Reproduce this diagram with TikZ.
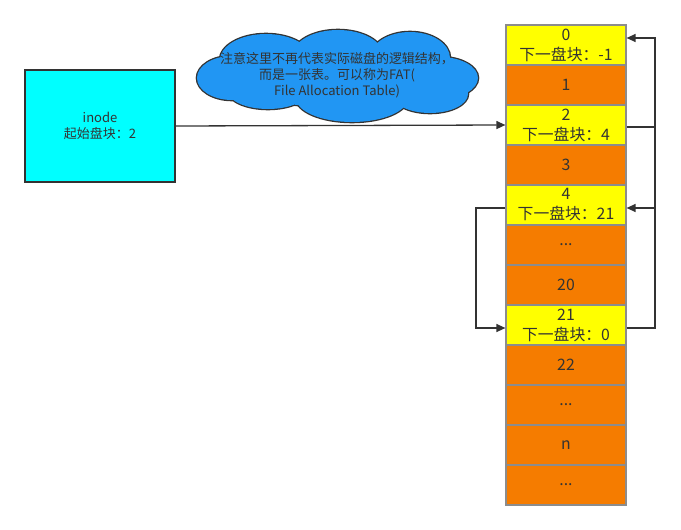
\documentclass[tikz,border=0pt]{standalone}
\usepackage{fontspec}
\setmainfont{Noto Sans CJK SC}
\usetikzlibrary{arrows.meta}
\definecolor{txt}{HTML}{333333}
\definecolor{ln}{HTML}{333333}
\definecolor{cellb}{HTML}{8C8C8C}
\definecolor{ylw}{HTML}{FFFF00}
\definecolor{org}{HTML}{F57C00}
\definecolor{cyn}{HTML}{00FFFF}
\definecolor{cld}{HTML}{2196F3}
\begin{document}
\begin{tikzpicture}[x=1pt,y=-1pt,
  font=\fontsize{15.8}{20}\selectfont, text=txt,
  cell/.style={rectangle, draw=cellb, line width=1.2pt, minimum width=120pt, minimum height=40pt, inner sep=0pt, align=center},
  ycell/.style={cell, fill=ylw},
  ocell/.style={cell, fill=org},
  arr/.style={draw=ln, line width=1.3pt, -{Triangle[length=9pt,width=8pt]}}
]
\useasboundingbox (0,0) rectangle (681,530);
% inode
\node[rectangle, draw=ln, line width=1.3pt, fill=cyn, minimum width=150pt, minimum height=112pt, align=center, font=\fontsize{13}{16}\selectfont] (inode) at (100,126) {inode\\起始盘块：2};
% cloud (union of ellipses: outline first, then fill on top)
\def\cloudparts{%
  (232,78) ellipse [x radius=35pt, y radius=22pt]
  (266,60) ellipse [x radius=46pt, y radius=26pt]
  (338,55) ellipse [x radius=45pt, y radius=25pt]
  (410,58) ellipse [x radius=40pt, y radius=26pt]
  (440,78) ellipse [x radius=38pt, y radius=21pt]
  (430,94) ellipse [x radius=38pt, y radius=19pt]
  (352,98) ellipse [x radius=56pt, y radius=24pt]
  (268,91) ellipse [x radius=40pt, y radius=18pt]
  (337,77) ellipse [x radius=110pt, y radius=30pt]}
\draw[ln, line width=2.6pt] \cloudparts;
\fill[cld] \cloudparts;
\node[align=center, font=\fontsize{13}{16}\selectfont] (cloudtext) at (337,75) {注意这里不再代表实际磁盘的逻辑结构，\\而是一张表。可以称为FAT(\\File Allocation Table)};
% cells
\node[ycell] (c0) at (566,45) {0\\下一盘块：-1};
\node[ocell] (c1) at (566,85) {1};
\node[ycell] (c2) at (566,125) {2\\下一盘块：4};
\node[ocell] (c3) at (566,165) {3};
\node[ycell] (c4) at (566,205) {4\\下一盘块：21};
\node[ocell] (c5) at (566,245) {...};
\node[ocell] (c20) at (566,285) {20};
\node[ycell] (c21) at (566,325) {21\\下一盘块：0};
\node[ocell] (c22) at (566,365) {22};
\node[ocell] (c23) at (566,405) {...};
\node[ocell] (cn) at (566,445) {n};
\node[ocell] (cl) at (566,485) {...};
% connectors
\coordinate (rx) at (655,0);
\coordinate (lx) at (476,0);
\draw[arr] (inode.east) -- (c2.west);
\draw[arr] ([yshift=-2pt]c2.east) -- ([yshift=-2pt]c2.east -| rx) -- ([yshift=-3pt]c4.east -| rx) -- ([yshift=-3pt]c4.east);
\draw[arr] ([yshift=-3pt]c21.east) -- ([yshift=-3pt]c21.east -| rx) -- ([yshift=7pt]c0.east -| rx) -- ([yshift=7pt]c0.east);
\draw[arr] ([yshift=-3pt]c4.west) -- ([yshift=-3pt]c4.west -| lx) -- ([yshift=-3pt]c21.west -| lx) -- ([yshift=-3pt]c21.west);
\end{tikzpicture}
\end{document}
